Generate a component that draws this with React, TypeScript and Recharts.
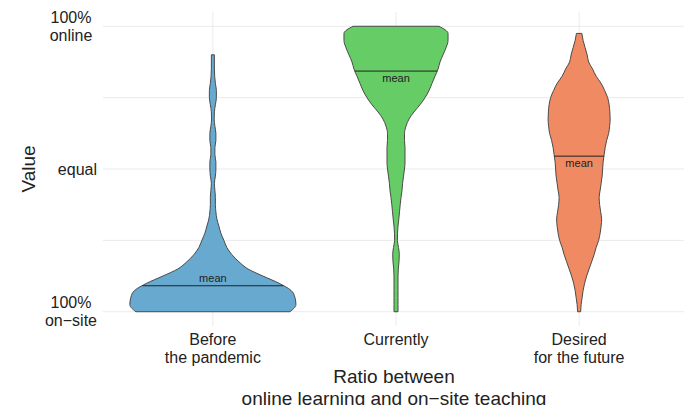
import React from 'react'
import {
  ComposedChart,
  Area,
  XAxis,
  YAxis,
  CartesianGrid,
  ReferenceLine,
} from 'recharts'

// positions of the three groups on the x axis and their labels
const CATEGORY_POS = [1, 2, 3]
const CATEGORY_LABELS = [['Before', 'the pandemic'], ['Currently'], ['Desired', 'for the future']]

const Y_TICKS = [0, 0.25, 0.5, 0.75, 1]
const Y_LABELS: Record<string, string[]> = {
  '0': ['100%', 'on−site'],
  '0.5': ['equal'],
  '1': ['100%', 'online'],
}

// value grid (0 = 100% on-site, 1 = 100% online)
const VALUES = [
  0, 0.025, 0.05, 0.075, 0.1, 0.125, 0.15, 0.175, 0.2, 0.225,
  0.25, 0.275, 0.3, 0.325, 0.35, 0.375, 0.4, 0.425, 0.45, 0.475,
  0.5, 0.525, 0.55, 0.575, 0.6, 0.625, 0.65, 0.675, 0.7, 0.725,
  0.75, 0.775, 0.8, 0.825, 0.85, 0.875, 0.9, 0.925, 0.95, 0.975, 1,
]

// violin half-widths (density) at each value
const BEFORE = [
  77, 83, 82, 78, 66, 50, 35, 26, 19, 14,
  11, 8, 6, 4, 3, 2.5, 2.5, 2, 1.5, 2.5,
  3, 3, 2, 2, 3, 3, 2, 1.3, 1.5, 2.5,
  3.5, 3.5, 2.5, 1.8, 1.5, 1.5, 1.5, null, null, null, null,
]
const CURRENTLY = [
  2, 2, 2, 2, 2, 2, 2.3, 3, 3.3, 2.5,
  1.4, 1.5, 2, 2.8, 3.5, 4.2, 5, 6, 6.6, 7.5,
  8.5, 9, 9, 9, 8.5, 8.5, 10, 13, 18, 24,
  29, 33, 36, 39, 42, 44, 47, 50, 52, 52, 43,
]
const DESIRED = [
  1.5, 2, 3, 4, 5.5, 7.5, 10, 12.5, 15, 17,
  19.5, 21, 22, 22.5, 21.5, 20.5, 20, 21, 22, 23,
  23.5, 24, 25, 26, 27.5, 29.5, 30.5, 31, 30.7, 30,
  28.5, 25.5, 22, 17, 13.5, 9.5, 8, 6, 4, 2.7, null,
]
const MEANS = [0.091, 0.843, 0.545]

const SERIES = [
  { key: 'before', density: BEFORE, fill: '#67a9cf', meanLabel: 'top' },
  { key: 'currently', density: CURRENTLY, fill: '#66cc66', meanLabel: 'bottom' },
  { key: 'desired', density: DESIRED, fill: '#ef8a62', meanLabel: 'bottom' },
]

const DENSITY_SCALE = 1 / 183
const FONT = '"Liberation Sans", Arial, Helvetica, sans-serif'
const TEXT = '#222'
const OUTLINE = '#4a4a4a'

const rows = VALUES.map((v, i) => ({
  v,
  before: BEFORE[i],
  currently: CURRENTLY[i],
  desired: DESIRED[i],
}))

function widthAt(density: (number | null)[], value: number) {
  for (let i = 0; i < VALUES.length - 1; i++) {
    if (value >= VALUES[i] && value <= VALUES[i + 1]) {
      const a = density[i] ?? 0
      const b = density[i + 1] ?? a
      const t = (value - VALUES[i]) / (VALUES[i + 1] - VALUES[i])
      return a + (b - a) * t
    }
  }
  return 0
}

function ends(density: (number | null)[]) {
  const idx = density.map((d, i) => (d == null ? -1 : i)).filter((i) => i >= 0)
  return [idx[0], idx[idx.length - 1]]
}

function YTick({ x, y, payload }: any) {
  const lines = Y_LABELS[String(payload.value)]
  if (!lines) return null
  if (lines.length === 1) {
    return (
      <text x={x} y={y} dy={5.7} textAnchor="end" fontSize={16} fill={TEXT} fontFamily={FONT}>
        {lines[0]}
      </text>
    )
  }
  const cx = x - 26
  return (
    <text x={cx} y={y} textAnchor="middle" fontSize={16} fill={TEXT} fontFamily={FONT}>
      <tspan x={cx} dy={-3.3}>{lines[0]}</tspan>
      <tspan x={cx} dy={18}>{lines[1]}</tspan>
    </text>
  )
}

function XTick({ x, y, payload }: any) {
  const lines = CATEGORY_LABELS[CATEGORY_POS.indexOf(payload.value)]
  if (!lines) return null
  return (
    <text x={x} y={y} textAnchor="middle" fontSize={16} fill={TEXT} fontFamily={FONT}>
      {lines.map((l, i) => (
        <tspan key={i} x={x} dy={i === 0 ? 19 : 18}>
          {l}
        </tspan>
      ))}
    </text>
  )
}

function XTitle({ viewBox }: any) {
  const cx = viewBox.x + viewBox.width / 2 - 2
  return (
    <text x={cx} y={383} textAnchor="middle" fontSize={19} fill={TEXT} fontFamily={FONT}>
      <tspan x={cx}>Ratio between</tspan>
      <tspan x={cx} dy={22}>online learning and on−site teaching</tspan>
    </text>
  )
}

function YTitle({ viewBox }: any) {
  const cy = viewBox.y + viewBox.height / 2
  return (
    <text
      x={35}
      y={cy}
      transform={`rotate(-90, 35, ${cy})`}
      textAnchor="middle"
      fontSize={19}
      fill={TEXT}
      fontFamily={FONT}
    >
      Value
    </text>
  )
}

export default function App() {
  return (
    <div style={{ position: 'absolute', left: 0, top: 0, width: 684, height: 405, overflow: 'hidden', background: '#fff' }}>
      <ComposedChart
        width={700}
        height={405}
        data={rows}
        layout="vertical"
        margin={{ top: 12, right: 11, bottom: 0, left: 0 }}
      >
        <CartesianGrid
          stroke="#ebebeb"
          strokeWidth={1}
          horizontalValues={Y_TICKS}
          verticalValues={CATEGORY_POS}
        />
        <XAxis
          type="number"
          domain={[0.4, 3.6]}
          ticks={CATEGORY_POS}
          allowDataOverflow
          axisLine={false}
          tickLine={false}
          tickSize={0}
          tickMargin={0}
          height={79}
          tick={<XTick />}
          label={<XTitle />}
          interval={0}
        />
        <YAxis
          type="number"
          dataKey="v"
          domain={[-0.05, 1.05]}
          ticks={Y_TICKS}
          reversed
          allowDataOverflow
          axisLine={false}
          tickLine={false}
          tickSize={0}
          tickMargin={6}
          width={103}
          tick={<YTick />}
          label={<YTitle />}
          interval={0}
        />
        {SERIES.map((s, si) => (
          <Area
            key={s.key}
            type="monotone"
            dataKey={(r: any) =>
              r[s.key] == null
                ? [null, null]
                : [CATEGORY_POS[si] - r[s.key] * DENSITY_SCALE, CATEGORY_POS[si] + r[s.key] * DENSITY_SCALE]
            }
            fill={s.fill}
            fillOpacity={1}
            stroke={OUTLINE}
            strokeWidth={1}
            isAnimationActive={false}
            dot={false}
            activeDot={false}
          />
        ))}
        {SERIES.map((s, si) =>
          ends(s.density).map((i, k) => (
            <ReferenceLine
              key={`${s.key}-end-${k}`}
              segment={[
                { x: CATEGORY_POS[si] - (s.density[i] as number) * DENSITY_SCALE, y: VALUES[i] },
                { x: CATEGORY_POS[si] + (s.density[i] as number) * DENSITY_SCALE, y: VALUES[i] },
              ]}
              stroke={OUTLINE}
              strokeWidth={1}
              ifOverflow="visible"
            />
          ))
        )}
        {SERIES.map((s, si) => {
          const w = widthAt(s.density, MEANS[si]) * DENSITY_SCALE
          return (
            <ReferenceLine
              key={`${s.key}-mean`}
              segment={[
                { x: CATEGORY_POS[si] - w, y: MEANS[si] },
                { x: CATEGORY_POS[si] + w, y: MEANS[si] },
              ]}
              stroke="#222"
              strokeWidth={1}
              ifOverflow="visible"
              label={{
                value: 'mean',
                position: s.meanLabel as any,
                offset: s.meanLabel === 'top' ? 4 : 3,
                fontSize: 11,
                fill: TEXT,
                fontFamily: FONT,
              }}
            />
          )
        })}
      </ComposedChart>
    </div>
  )
}
